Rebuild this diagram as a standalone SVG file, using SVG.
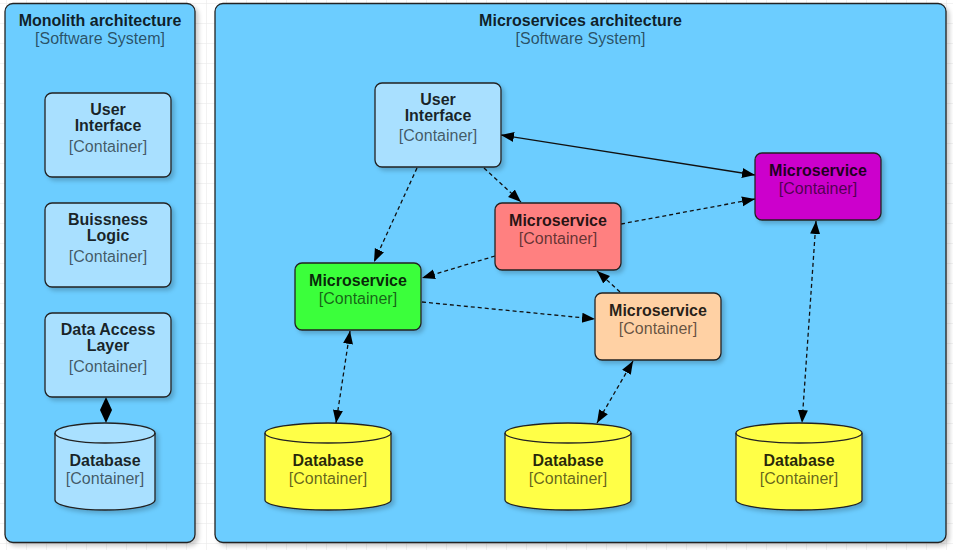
<svg xmlns="http://www.w3.org/2000/svg" width="953" height="550" viewBox="0 0 953 550">
<style>
text{font-family:"Liberation Sans",Arial,sans-serif;font-size:16px;text-anchor:middle}
.b{font-weight:bold;fill:#000;fill-opacity:.85}
.c{fill:#000;fill-opacity:.62}
.sys{fill:#6ccdff;stroke:#222;stroke-width:1.3}
.box{stroke:#222;stroke-width:1.3}
.lb{fill:#a9e0ff}
.db{stroke:#222;stroke-width:1.3}
.dash{fill:none;stroke:#111;stroke-width:1.3;stroke-dasharray:4 3}
.solid{fill:none;stroke:#111;stroke-width:1.3}
</style>
<defs>
<pattern id="grid" width="20" height="20" patternUnits="userSpaceOnUse" x="6" y="3">
<path d="M20 0H0V20" fill="none" stroke="#e6e6e6" stroke-width="1"/>
</pattern>
<filter id="sh" x="-10%" y="-10%" width="125%" height="125%">
<feDropShadow dx="3" dy="3" stdDeviation="2" flood-color="#000" flood-opacity="0.2"/>
</filter>
<marker id="ar" markerUnits="userSpaceOnUse" markerWidth="14" markerHeight="12" refX="13" refY="5" orient="auto-start-reverse">
<path d="M0,0 L13,5 L0,10 z" fill="#000"/>
</marker>
</defs>
<rect width="953" height="550" fill="#fff"/>
<rect width="953" height="550" fill="url(#grid)"/>

<g id="monolith">
<rect class="sys" x="5" y="3.5" width="190" height="539" rx="8" filter="url(#sh)"/>
<text class="b" x="100" y="26">Monolith architecture</text>
<text class="c" x="100" y="44">[Software System]</text>
</g>
<g id="microservices">
<rect class="sys" x="215" y="3.5" width="731" height="539" rx="8" filter="url(#sh)"/>
<text class="b" x="580.5" y="26">Microservices architecture</text>
<text class="c" x="580.5" y="44">[Software System]</text>
</g>

<g id="connectors">
<path d="M106,397 L112,410 L106,423 L100,410 z" fill="#000"/>
<path class="solid" d="M501,135 L755,175" marker-start="url(#ar)" marker-end="url(#ar)"/>
<path class="dash" d="M417,168 L374,262" marker-end="url(#ar)"/>
<path class="dash" d="M484,168 L521,202" marker-end="url(#ar)"/>
<path class="dash" d="M621,224 L755,199" marker-end="url(#ar)"/>
<path class="dash" d="M495,256 L422,278" marker-end="url(#ar)"/>
<path class="dash" d="M422,302 L595,319" marker-end="url(#ar)"/>
<path class="dash" d="M620,292 L597,271" marker-end="url(#ar)"/>
<path class="dash" d="M350,331 L336,423" marker-start="url(#ar)" marker-end="url(#ar)"/>
<path class="dash" d="M633,361 L597,423" marker-start="url(#ar)" marker-end="url(#ar)"/>
<path class="dash" d="M816,221 L802,423" marker-start="url(#ar)" marker-end="url(#ar)"/>
</g>

<g id="mono-ui">
<rect class="box lb" x="45" y="93" width="126" height="84" rx="7" filter="url(#sh)"/>
<text class="b" x="108" y="115">User</text>
<text class="b" x="108" y="131">Interface</text>
<text class="c" x="108" y="152">[Container]</text>
</g>
<g id="mono-logic">
<rect class="box lb" x="45" y="203" width="126" height="84" rx="7" filter="url(#sh)"/>
<text class="b" x="108" y="225">Buissness</text>
<text class="b" x="108" y="241">Logic</text>
<text class="c" x="108" y="262">[Container]</text>
</g>
<g id="mono-dal">
<rect class="box lb" x="45" y="313" width="126" height="84" rx="7" filter="url(#sh)"/>
<text class="b" x="108" y="335">Data Access</text>
<text class="b" x="108" y="351">Layer</text>
<text class="c" x="108" y="372">[Container]</text>
</g>
<g id="mono-db">
<path class="db lb" d="M55,433 A50,10 0 0 1 155,433 V500 A50,10 0 0 1 55,500 Z" filter="url(#sh)"/>
<path class="db" fill="none" d="M55,433 A50,10 0 0 0 155,433"/>
<text class="b" x="105" y="466">Database</text>
<text class="c" x="105" y="484">[Container]</text>
</g>

<g id="ms-ui">
<rect class="box lb" x="375" y="83" width="126" height="84" rx="7" filter="url(#sh)"/>
<text class="b" x="438" y="105">User</text>
<text class="b" x="438" y="121">Interface</text>
<text class="c" x="438" y="141">[Container]</text>
</g>
<g id="ms-red">
<rect class="box" fill="#ff8080" x="495" y="203" width="126" height="67" rx="7" filter="url(#sh)"/>
<text class="b" x="558" y="226">Microservice</text>
<text class="c" x="558" y="244">[Container]</text>
</g>
<g id="ms-magenta">
<rect class="box" fill="#cc00cc" x="755" y="153" width="126" height="67" rx="7" filter="url(#sh)"/>
<text class="b" x="818" y="176">Microservice</text>
<text class="c" x="818" y="194">[Container]</text>
</g>
<g id="ms-green">
<rect class="box" fill="#3aff3a" x="295" y="263" width="126" height="67" rx="7" filter="url(#sh)"/>
<text class="b" x="358" y="286">Microservice</text>
<text class="c" x="358" y="304">[Container]</text>
</g>
<g id="ms-peach">
<rect class="box" fill="#ffd1a4" x="595" y="293" width="126" height="67" rx="7" filter="url(#sh)"/>
<text class="b" x="658" y="316">Microservice</text>
<text class="c" x="658" y="334">[Container]</text>
</g>

<g id="db1">
<path class="db" fill="#ffff47" d="M265,433 A63,10 0 0 1 391,433 V500 A63,10 0 0 1 265,500 Z" filter="url(#sh)"/>
<path class="db" fill="none" d="M265,433 A63,10 0 0 0 391,433"/>
<text class="b" x="328" y="466">Database</text>
<text class="c" x="328" y="484">[Container]</text>
</g>
<g id="db2">
<path class="db" fill="#ffff47" d="M505,433 A63,10 0 0 1 631,433 V500 A63,10 0 0 1 505,500 Z" filter="url(#sh)"/>
<path class="db" fill="none" d="M505,433 A63,10 0 0 0 631,433"/>
<text class="b" x="568" y="466">Database</text>
<text class="c" x="568" y="484">[Container]</text>
</g>
<g id="db3">
<path class="db" fill="#ffff47" d="M736,433 A63,10 0 0 1 862,433 V500 A63,10 0 0 1 736,500 Z" filter="url(#sh)"/>
<path class="db" fill="none" d="M736,433 A63,10 0 0 0 862,433"/>
<text class="b" x="799" y="466">Database</text>
<text class="c" x="799" y="484">[Container]</text>
</g>
</svg>
